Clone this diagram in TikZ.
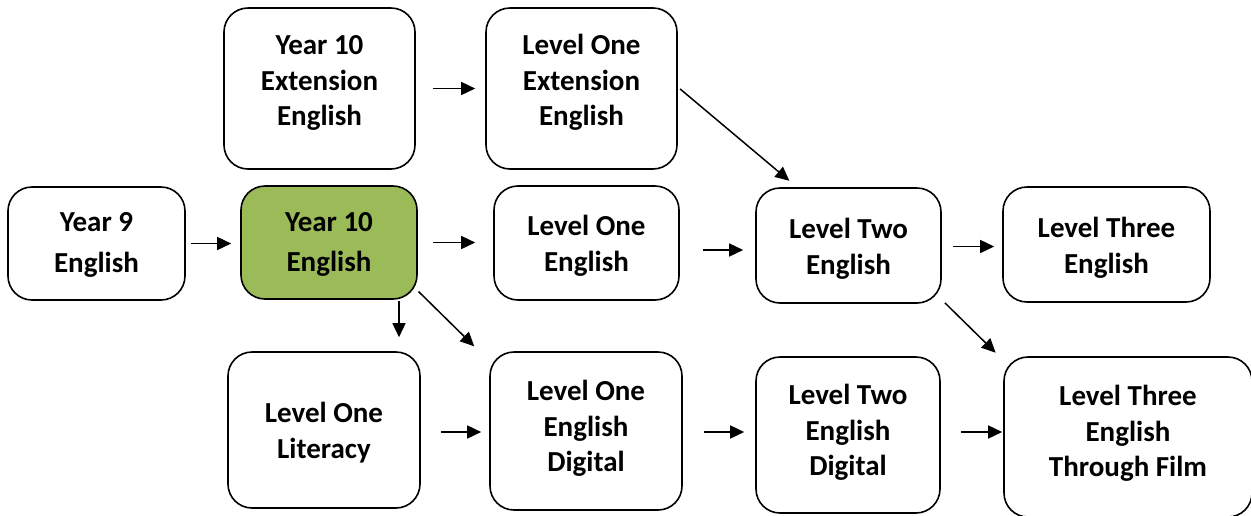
\documentclass[tikz,border=0pt]{standalone}
\usepackage{fontspec}
\setmainfont{Carlito}
\usetikzlibrary{arrows.meta}
\definecolor{boxgreen}{HTML}{9BBB59}
\tikzset{
  box/.style={draw=black, line width=1.6pt, rounded corners=24pt, align=center, inner sep=0pt},
  tx/.style 2 args={font=\bfseries\fontsize{29}{#1}\selectfont, text height=#2, text depth=7pt},
  arr/.style={line width=1.5pt, -{Triangle[length=14pt,width=13pt]}}
}
\begin{document}
\begin{tikzpicture}[x=1pt,y=-1pt]
\useasboundingbox (0,0) rectangle (1251,515);
\node[box, tx={41pt}{65pt}, minimum width=177pt, minimum height=113pt] (y9) at (96.5,243.5) {Year 9\\English};
\node[box, tx={40pt}{65pt}, fill=boxgreen, minimum width=176pt, minimum height=113pt] (y10) at (329,242.5) {Year 10\\English};
\node[box, tx={35.5pt}{81pt}, minimum width=191pt, minimum height=161pt] (y10x) at (319.5,88.5) {Year 10\\Extension\\English};
\node[box, tx={35.5pt}{81pt}, minimum width=191pt, minimum height=161pt] (l1x) at (581.5,88.5) {Level One\\Extension\\English};
\node[box, tx={36pt}{64pt}, minimum width=185pt, minimum height=114pt] (l1) at (586.5,243) {Level One\\English};
\node[box, tx={36pt}{65pt}, minimum width=185pt, minimum height=115pt] (l2) at (848.5,245.5) {Level Two\\English};
\node[box, tx={36pt}{65pt}, minimum width=207pt, minimum height=115pt] (l3) at (1106.5,244.5) {Level Three\\English};
\node[box, tx={36pt}{64pt}, minimum width=192pt, minimum height=156pt] (lit) at (324,430) {Level One\\Literacy};
\node[box, tx={35.5pt}{88pt}, minimum width=192pt, minimum height=158pt] (l1d) at (586,431) {Level One\\English\\Digital};
\node[box, tx={35.5pt}{88pt}, minimum width=184pt, minimum height=156pt] (l2d) at (848,435) {Level Two\\English\\Digital};
\node[box, tx={35.5pt}{86pt}, minimum width=248pt, minimum height=160pt] (l3f) at (1128,437) {Level Three\\English\\Through Film};

\draw[arr, shorten <=5pt, shorten >=9pt] (y9.east) -- (y9.east -| y10.west);
\draw[arr, shorten <=15pt, shorten >=18pt] (y10.east) -- (y10.east -| l1.west);
\draw[arr, shorten <=17pt, shorten >=10pt] (y10x.east) -- (y10x.east -| l1x.west);
\draw[arr, shorten <=23pt, shorten >=12pt] ([yshift=-7pt]l1.east) -- ([yshift=-7pt]l1.east -| l2.west);
\draw[arr, shorten <=3pt, shorten >=10pt] ([yshift=1.5pt]l1x.east) -- ([xshift=-51.5pt]l2.north);
\draw[arr, shorten <=11pt, shorten >=8pt] ([yshift=-1pt]l2.east) -- ([yshift=-1pt]l2.east -| l3.west);
\draw[arr, shorten <=3pt, shorten >=5pt] ([xshift=1pt,yshift=3pt]l2.south east) -- ([xshift=-4pt]l3f.north west);
\draw[arr, shorten <=1pt, shorten >=14pt] ([xshift=70pt]y10.south) -- ([xshift=70pt]y10.south |- lit.north);
\draw[arr, shorten <=1pt, shorten >=7pt] ([yshift=9pt]y10.south east) -- ([xshift=-10pt]l1d.north west);
\draw[arr, shorten <=20pt, shorten >=8pt] ([yshift=-2pt]lit.east) -- ([yshift=-2pt]lit.east -| l1d.west);
\draw[arr, shorten <=21pt, shorten >=11pt] ([yshift=-1pt]l1d.east) -- ([yshift=-1pt]l1d.east -| l2d.west);
\draw[arr, shorten <=20pt, shorten >=1pt] ([yshift=3pt]l2d.east) -- ([yshift=3pt]l2d.east -| l3f.west);
\end{tikzpicture}
\end{document}
